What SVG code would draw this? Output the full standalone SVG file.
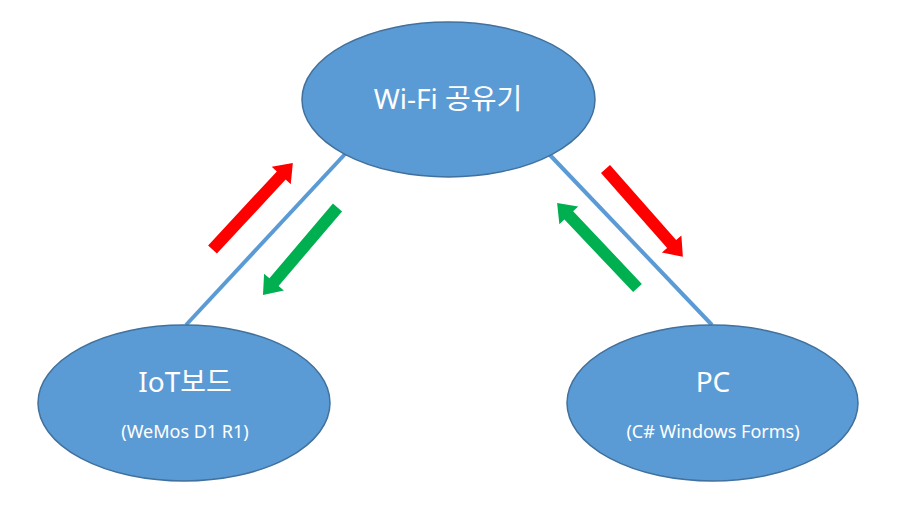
<svg xmlns="http://www.w3.org/2000/svg" width="898" height="526" viewBox="0 0 898 526">
<defs>
<style>
.node{fill:#5B9BD5;stroke:#41719C;stroke-width:1.5}
.conn{stroke:#5B9BD5;stroke-width:4;fill:none}
.t{fill:#fff;font-family:"Noto Sans","Noto Sans CJK KR",sans-serif;text-anchor:middle}
.big{font-size:28px}
.small{font-size:18px}
.red{fill:#FF0000}
.green{fill:#00B050}
</style>
</defs>
<rect width="898" height="526" fill="#fff"/>
<g id="connectors">
<line class="conn" x1="186" y1="325" x2="346" y2="153"/>
<line class="conn" x1="548" y1="153" x2="712" y2="325"/>
</g>
<g id="flow-arrows">
<polygon class="red" transform="translate(212.5,249.5) rotate(-47.1)" points="0,-6 101,-6 101,-13 118,0 101,13 101,6 0,6"/>
<polygon class="green" transform="translate(337.5,207.5) rotate(130.4)" points="0,-6 98,-6 98,-13 115,0 98,13 98,6 0,6"/>
<polygon class="red" transform="translate(605.5,169) rotate(48.6)" points="0,-6 100,-6 100,-13 117,0 100,13 100,6 0,6"/>
<polygon class="green" transform="translate(637.5,288) rotate(226.6)" points="0,-6 100,-6 100,-13 117,0 100,13 100,6 0,6"/>
</g>
<g id="wifi">
<ellipse class="node" cx="448.5" cy="99.5" rx="146.5" ry="77.5"/>
<text class="t big" x="448" y="109">Wi-Fi 공유기</text>
</g>
<g id="iot">
<ellipse class="node" cx="184" cy="403" rx="146" ry="78"/>
<text class="t big" x="185" y="392">IoT보드</text>
<text class="t small" x="185" y="438">(WeMos D1 R1)</text>
</g>
<g id="pc">
<ellipse class="node" cx="712.5" cy="403" rx="145.5" ry="78"/>
<text class="t big" x="713" y="392">PC</text>
<text class="t small" x="713" y="438">(C# Windows Forms)</text>
</g>
</svg>
